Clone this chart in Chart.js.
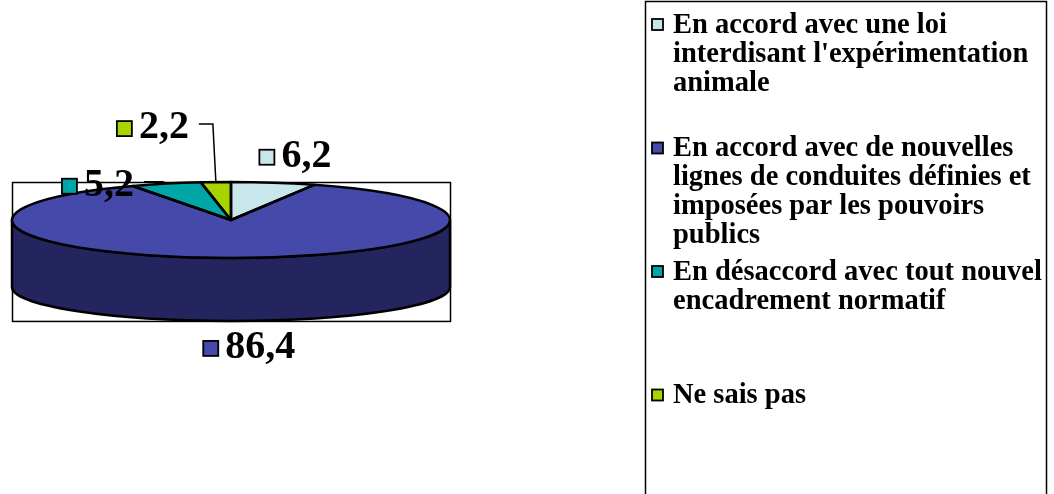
<!DOCTYPE html>
<html>
<head>
<meta charset="utf-8">
<title>Expérimentation animale</title>
<script src="https://cdn.jsdelivr.net/npm/chart.js@4/dist/chart.umd.min.js"></script>
<style>
  html, body { margin: 0; padding: 0; background: #fff; }
  canvas { display: block; }
</style>
</head>
<body>
<canvas id="pieChart" width="1054" height="494"></canvas>
<script>
// Réponses (en %)
const categories = [
    ["En accord avec une loi", "interdisant l'expérimentation", "animale"],
    ["En accord avec de nouvelles", "lignes de conduites définies et", "imposées par les pouvoirs", "publics"],
    ["En désaccord avec tout nouvel", "encadrement normatif"],
    ["Ne sais pas"]
];
const values = [6.2, 86.4, 5.2, 2.2];
const sliceColors = ["#C9E6EA", "#4549A9", "#00A6A6", "#A8D400"];
const sideColors = ["#8FAAAD", "#24255F", "#006868", "#6A8600"];

// placement des étiquettes par rapport au bord de la part
const labelOffsets = [[-14, -16], [-36, 37], [-104, 12], [-99, -44]];

const TILT = 0.1735;         // aplatissement de la face supérieure
const BOTTOM_TILT = 0.155;   // aplatissement du bas du cylindre
const DEPTH = 67;            // épaisseur du camembert
const SERIF = "'Liberation Serif', 'Times New Roman', serif";

function fmt(v) {
    return v.toFixed(1).replace(".", ",");
}

function pieGeom(chart) {
    const arcs = chart.getDatasetMeta(0).data;
    const a = arcs[0];
    return { arcs, cx: a.x, cy: a.y, rx: a.outerRadius, ry: a.outerRadius * TILT, ryb: a.outerRadius * BOTTOM_TILT };
}

const pie3d = {
    id: "pie3d",
    beforeDatasetsDraw(chart) {
        const ctx = chart.ctx;
        const { arcs, cx, cy, rx, ry, ryb } = pieGeom(chart);

        // cadre de la zone de tracé
        ctx.save();
        ctx.strokeStyle = "#000";
        ctx.lineWidth = 1.5;
        ctx.strokeRect(cx - rx + 0.5, cy - ry + 0.5, rx * 2, ry + DEPTH + ryb);
        ctx.restore();

        // flanc visible (moitié avant)
        ctx.save();
        ctx.lineWidth = 2.5;
        ctx.strokeStyle = "#000";
        ctx.lineJoin = "round";
        arcs.forEach((arc, i) => {
            [[0, Math.PI], [2 * Math.PI, 3 * Math.PI]].forEach(([lo, hi]) => {
                const a0 = Math.max(arc.startAngle, lo);
                const a1 = Math.min(arc.endAngle, hi);
                if (a1 <= a0) return;
                ctx.beginPath();
                ctx.ellipse(cx, cy, rx, ry, 0, a0, a1);
                ctx.lineTo(cx + rx * Math.cos(a1), cy + DEPTH + ryb * Math.sin(a1));
                ctx.ellipse(cx, cy + DEPTH, rx, ryb, 0, a1, a0, true);
                ctx.closePath();
                ctx.fillStyle = sideColors[i];
                ctx.fill();
                ctx.stroke();
            });
        });
        ctx.restore();

        // face supérieure : on écrase le disque verticalement
        ctx.save();
        ctx.translate(cx, cy);
        ctx.scale(1, TILT);
        ctx.translate(-cx, -cy);
    },
    afterDatasetsDraw(chart) {
        const ctx = chart.ctx;
        ctx.restore();
        const { arcs, cx, cy, rx, ry, ryb } = pieGeom(chart);

        // contours des parts
        ctx.save();
        ctx.lineWidth = 2.5;
        ctx.strokeStyle = "#000";
        ctx.lineJoin = "round";
        arcs.forEach((arc) => {
            ctx.beginPath();
            ctx.moveTo(cx, cy);
            ctx.ellipse(cx, cy, rx, ry, 0, arc.startAngle, arc.endAngle);
            ctx.closePath();
            ctx.stroke();
        });
        ctx.restore();

        // étiquettes de valeurs
        ctx.save();
        ctx.font = "bold 40px " + SERIF;
        ctx.textBaseline = "alphabetic";
        arcs.forEach((arc, i) => {
            const mid = (arc.startAngle + arc.endAngle) / 2;
            const s = Math.sin(mid);
            const ax = cx + rx * Math.cos(mid);
            const ay = s > 0 ? cy + DEPTH + ryb * s : cy + ry * s;
            const lx = ax + labelOffsets[i][0];
            const base = ay + labelOffsets[i][1];
            const text = fmt(values[i]);
            const tx = lx + 22;
            const tw = ctx.measureText(text).width;

            if (values[i] < 6) {
                const ly = base - 14;
                ctx.beginPath();
                ctx.moveTo(ax, ay);
                ctx.lineTo(ax - 3, ly);
                ctx.lineTo(tx + tw + 10, ly);
                ctx.lineWidth = 1.5;
                ctx.strokeStyle = "#000";
                ctx.stroke();
            }

            ctx.fillStyle = sliceColors[i];
            ctx.fillRect(lx, base - 17, 15, 15);
            ctx.lineWidth = 1.8;
            ctx.strokeStyle = "#000";
            ctx.strokeRect(lx, base - 17, 15, 15);

            ctx.fillStyle = "#000";
            ctx.fillText(text, tx, base);
        });
        ctx.restore();
    },
    afterDraw(chart) {
        const ctx = chart.ctx;
        // légende à droite
        ctx.save();
        ctx.lineWidth = 1.5;
        ctx.strokeStyle = "#000";
        ctx.strokeRect(645.5, 1.5, 401, 510);
        ctx.font = "bold 28.5px " + SERIF;
        ctx.textBaseline = "alphabetic";
        categories.forEach((lines, i) => {
            const base = 32.5 + 123.5 * i;
            ctx.fillStyle = sliceColors[i];
            ctx.fillRect(652, base - 13.5, 11, 11);
            ctx.lineWidth = 1.8;
            ctx.strokeRect(652, base - 13.5, 11, 11);
            ctx.fillStyle = "#000";
            lines.forEach((line, j) => {
                ctx.fillText(line, 673, base + j * 29);
            });
        });
        ctx.restore();
    }
};

new Chart(document.getElementById("pieChart"), {
    type: "pie",
    data: {
        labels: categories,
        datasets: [{
            data: values,
            backgroundColor: sliceColors,
            borderWidth: 0
        }]
    },
    options: {
        responsive: false,
        animation: false,
        events: [],
        layout: {
            padding: { left: 12, right: 604, top: 1, bottom: 55 }
        },
        plugins: {
            legend: { display: false },
            tooltip: { enabled: false }
        }
    },
    plugins: [pie3d]
});
</script>
</body>
</html>
